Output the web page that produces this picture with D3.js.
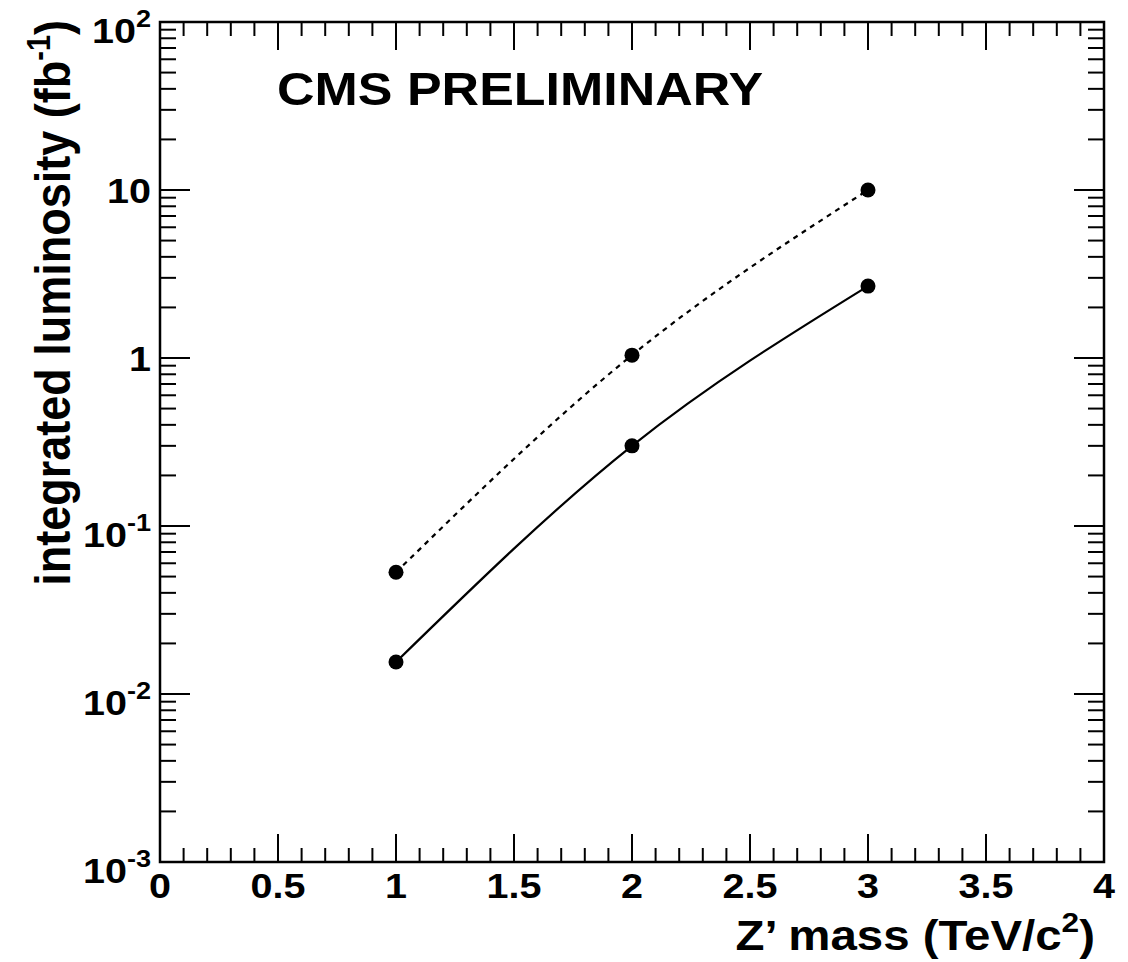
<!DOCTYPE html>
<html>
<head>
<meta charset="utf-8">
<script src="https://cdn.jsdelivr.net/npm/d3@7"></script>
<style>
  html, body { margin: 0; padding: 0; background: #fff; }
  text { font-family: "Liberation Sans", Arial, Helvetica, sans-serif; font-weight: bold; fill: #000; }
</style>
</head>
<body>
<div id="container"></div>
<script>
// data
const masses = [1, 2, 3];
const lumiDashed = [0.053, 1.04, 10.0];
const lumiSolid = [0.0155, 0.30, 2.68];

// tick labels
const xTicks = [0, 0.5, 1, 1.5, 2, 2.5, 3, 3.5, 4];
const xTickLabels = ['0', '0.5', '1', '1.5', '2', '2.5', '3', '3.5', '4'];
const yTicks = [1e-3, 1e-2, 1e-1, 1, 10, 100];
const yTickLabels = [['10', '-3'], ['10', '-2'], ['10', '-1'], ['1', ''], ['10', ''], ['10', '2']];

const title = 'CMS PRELIMINARY';
const xTitle = ['Z\u2019 mass (TeV/c', '2', ')'];
const yTitle = ['integrated luminosity (fb', '-1', ')'];

// chart dimensions
const width = 1128;
const height = 962;
const padL = 160, padR = 1104, padT = 22, padB = 862;
const sx = 1.13; // horizontal stretch of the original image text

const svg = d3.select('#container')
    .append('svg')
    .attr('width', width)
    .attr('height', height);

svg.append('rect').attr('width', width).attr('height', height).attr('fill', '#fff');

// scales
const xScale = d3.scaleLinear().domain([0, 4]).range([padL, padR]);
const yScale = d3.scaleLog().domain([1e-3, 1e2]).range([padB, padT]);

// minor ticks
const xMinor = d3.range(0, 4.001, 0.1).filter(v => Math.abs(v * 2 - Math.round(v * 2)) > 1e-6);
const yMinor = [];
yTicks.slice(0, -1).forEach(d => { for (let k = 2; k <= 9; k++) yMinor.push(d * k); });

// ticks drawn inwards, mirrored on top and right
const g = svg.append('g').attr('class', 'ticks').attr('stroke', '#000').attr('stroke-width', 2);
xTicks.forEach(v => {
    g.append('line').attr('x1', xScale(v)).attr('x2', xScale(v)).attr('y1', padB).attr('y2', padB - 28);
    g.append('line').attr('x1', xScale(v)).attr('x2', xScale(v)).attr('y1', padT).attr('y2', padT + 28);
});
xMinor.forEach(v => {
    g.append('line').attr('x1', xScale(v)).attr('x2', xScale(v)).attr('y1', padB).attr('y2', padB - 14);
    g.append('line').attr('x1', xScale(v)).attr('x2', xScale(v)).attr('y1', padT).attr('y2', padT + 14);
});
yTicks.forEach(v => {
    g.append('line').attr('y1', yScale(v)).attr('y2', yScale(v)).attr('x1', padL).attr('x2', padL + 30);
    g.append('line').attr('y1', yScale(v)).attr('y2', yScale(v)).attr('x1', padR).attr('x2', padR - 30);
});
yMinor.forEach(v => {
    g.append('line').attr('y1', yScale(v)).attr('y2', yScale(v)).attr('x1', padL).attr('x2', padL + 16);
    g.append('line').attr('y1', yScale(v)).attr('y2', yScale(v)).attr('x1', padR).attr('x2', padR - 16);
});

// frame
svg.append('rect')
    .attr('x', padL).attr('y', padT)
    .attr('width', padR - padL).attr('height', padB - padT)
    .attr('fill', 'none').attr('stroke', '#000').attr('stroke-width', 2.5);

// x tick labels
svg.append('g').selectAll('text')
    .data(xTicks)
    .enter()
    .append('text')
    .attr('transform', (d) => `translate(${xScale(d)},${padB + 36}) scale(${sx},1)`)
    .attr('text-anchor', 'middle')
    .style('font-size', '35px')
    .text((d, i) => xTickLabels[i]);

// y tick labels
yTicks.forEach((d, i) => {
    const lab = yTickLabels[i];
    const t = svg.append('text')
        .attr('transform', `translate(151,${yScale(d) + (lab[1] ? 21 : 13)}) scale(${sx},1)`)
        .attr('text-anchor', 'end')
        .style('font-size', '35px');
    t.append('tspan').text(lab[0]);
    if (lab[1]) t.append('tspan').attr('dy', -16).style('font-size', '24px').text(lab[1]);
});

// curves and markers
const line = d3.line()
    .x((d) => xScale(d[0]))
    .y((d) => yScale(d[1]))
    .curve(d3.curveNatural);

const series = [
    { values: lumiDashed, dash: '5,5' },
    { values: lumiSolid, dash: null }
];

series.forEach((s) => {
    const pts = masses.map((m, i) => [m, s.values[i]]);
    svg.append('path')
        .datum(pts)
        .attr('d', line)
        .attr('fill', 'none')
        .attr('stroke', '#000')
        .attr('stroke-width', 2.2)
        .attr('stroke-dasharray', s.dash);
    svg.append('g').selectAll('circle')
        .data(pts)
        .enter()
        .append('circle')
        .attr('cx', (d) => xScale(d[0]))
        .attr('cy', (d) => yScale(d[1]))
        .attr('r', 7.5)
        .attr('fill', '#000');
});

// title
svg.append('text')
    .attr('transform', `translate(277,105) scale(${sx},1)`)
    .style('font-size', '46px')
    .text(title);

// x axis title
const xt = svg.append('text')
    .attr('transform', `translate(1095,950) scale(${sx},1)`)
    .attr('text-anchor', 'end')
    .style('font-size', '42px');
xt.append('tspan').text(xTitle[0]);
xt.append('tspan').attr('dy', -18).style('font-size', '28px').text(xTitle[1]);
xt.append('tspan').attr('dy', 18).text(xTitle[2]);

// y axis title
const yt = svg.append('text')
    .attr('transform', `translate(70,20) rotate(-90) scale(1,${sx})`)
    .attr('text-anchor', 'end')
    .style('font-size', '45px');
yt.append('tspan').text(yTitle[0]);
yt.append('tspan').attr('dy', -18).style('font-size', '29px').text(yTitle[1]);
yt.append('tspan').attr('dy', 18).text(yTitle[2]);
</script>
</body>
</html>
